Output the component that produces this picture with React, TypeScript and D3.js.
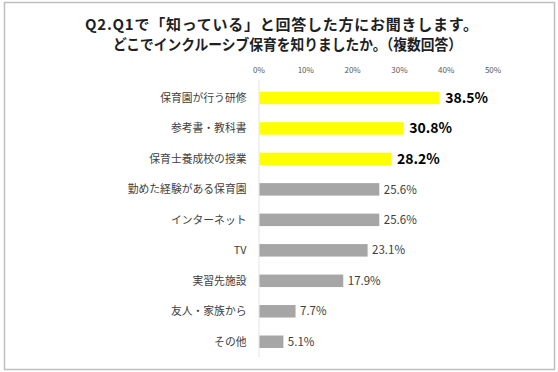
import React, { useEffect, useRef } from 'react';
import * as d3 from 'd3';

const categories = [
  '保育園が行う研修',
  '参考書・教科書',
  '保育士養成校の授業',
  '勤めた経験がある保育園',
  'インターネット',
  'TV',
  '実習先施設',
  '友人・家族から',
  'その他',
];
const values = [38.5, 30.8, 28.2, 25.6, 25.6, 23.1, 17.9, 7.7, 5.1];
const highlighted = [true, true, true, false, false, false, false, false, false];
const ticks = [0, 10, 20, 30, 40, 50];
const titleLines = [
  'Q2.Q1で「知っている」と回答した方にお聞きします。',
  'どこでインクルーシブ保育を知りましたか。（複数回答）',
];

const FONT = '"Noto Sans CJK JP", "Noto Sans", sans-serif';

const App = () => {
  const svgRef = useRef<SVGSVGElement>(null);

  useEffect(() => {
    const svg = d3.select(svgRef.current);
    svg.selectAll('*').remove();

    const width = 558;
    const height = 372;

    // outer frame
    svg.append('rect')
      .attr('x', 4.5).attr('y', 2.5)
      .attr('width', 550).attr('height', 367)
      .attr('fill', 'white')
      .attr('stroke', '#bfbfbf')
      .attr('stroke-width', 1.5);

    // title (two lines, second one indented like the original)
    const titlePos = [
      { x: 85, y: 30, len: 393, adjust: 'spacing' },
      { x: 113, y: 50, len: 349, adjust: 'spacingAndGlyphs' },
    ];
    titleLines.forEach((t, i) => {
      svg.append('text')
        .attr('x', titlePos[i].x)
        .attr('y', titlePos[i].y)
        .attr('font-family', FONT)
        .attr('font-size', 15)
        .attr('font-weight', 'bold')
        .attr('fill', '#1f1f1f')
        .attr('textLength', titlePos[i].len)
        .attr('lengthAdjust', titlePos[i].adjust)
        .text(t);
    });

    const x = d3.scaleLinear().domain([0, 50]).range([259, 493]);
    const y = d3.scaleBand<string>()
      .domain(categories)
      .range([82.7, 357])
      .paddingInner(0.59)
      .paddingOuter(0.295);

    // tick labels on top
    svg.append('g')
      .selectAll('text')
      .data(ticks)
      .enter()
      .append('text')
      .attr('x', d => x(d))
      .attr('y', 73)
      .attr('text-anchor', 'middle')
      .attr('font-family', FONT)
      .attr('font-size', 8)
      .attr('fill', '#595959')
      .text(d => `${d}%`);

    // axis line
    svg.append('line')
      .attr('x1', x(0)).attr('x2', x(0))
      .attr('y1', 80).attr('y2', 357)
      .attr('stroke', '#e3e3e3')
      .attr('stroke-width', 1);

    // bars
    svg.append('g')
      .selectAll('rect')
      .data(values)
      .enter()
      .append('rect')
      .attr('x', x(0) + 0.5)
      .attr('y', (d, i) => y(categories[i]) as number)
      .attr('width', d => x(d) - x(0))
      .attr('height', y.bandwidth())
      .attr('fill', (d, i) => (highlighted[i] ? '#ffff00' : '#a6a6a6'));

    // category labels
    svg.append('g')
      .selectAll('text')
      .data(categories)
      .enter()
      .append('text')
      .attr('x', 246.5)
      .attr('y', d => (y(d) as number) + y.bandwidth() / 2)
      .attr('dy', '0.35em')
      .attr('text-anchor', 'end')
      .attr('font-family', FONT)
      .attr('font-size', 10.8)
      .attr('fill', '#404040')
      .text(d => d);

    // value labels
    svg.append('g')
      .selectAll('text')
      .data(values)
      .enter()
      .append('text')
      .attr('x', (d, i) => x(d) + (highlighted[i] ? 6 : 5))
      .attr('y', (d, i) => (y(categories[i]) as number) + y.bandwidth() / 2)
      .attr('dy', '0.36em')
      .attr('font-family', FONT)
      .attr('font-size', (d, i) => (highlighted[i] ? 14 : 11.5))
      .attr('font-weight', (d, i) => (highlighted[i] ? 'bold' : 'normal'))
      .attr('fill', (d, i) => (highlighted[i] ? '#000000' : '#404040'))
      .text(d => `${d.toFixed(1)}%`);

    svg.attr('viewBox', `0 0 ${width} ${height}`);
  }, []);

  return (
    <svg
      ref={svgRef}
      width={558}
      height={372}
      style={{ position: 'fixed', left: 0, top: 0, background: 'white' }}
    ></svg>
  );
};

export default App;
